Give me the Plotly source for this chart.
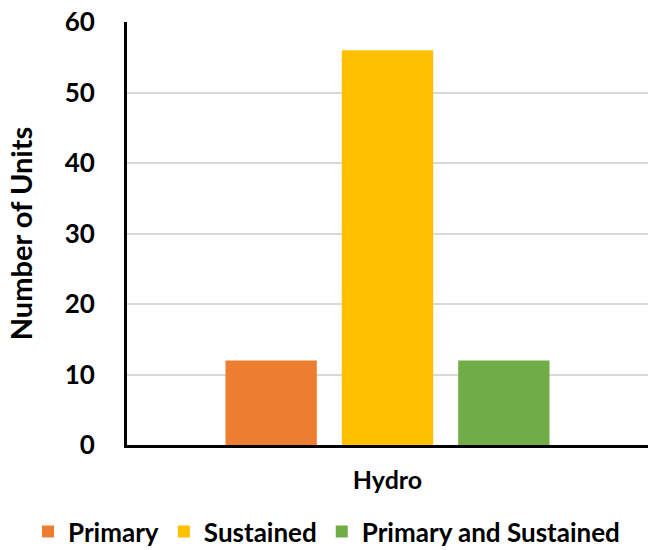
import plotly.graph_objects as go

categories = ["Hydro"]
series_names = ["Primary", "Sustained", "Primary and Sustained"]
series_values = [[12], [56], [12]]
colors = ["#ED7D31", "#FFC000", "#70AD47"]
y_ticks = [0, 10, 20, 30, 40, 50, 60]

FONT = "Lato"

fig = go.Figure()
for name, vals, c in zip(series_names, series_values, colors):
    fig.add_trace(go.Bar(x=categories, y=vals, name=name, marker=dict(color=c, line=dict(width=0))))

fig.update_layout(
    width=648, height=550,
    margin=dict(l=127, r=0, t=22, b=105, autoexpand=False),
    plot_bgcolor="white", paper_bgcolor="white",
    barmode="group", bargap=0.33, bargroupgap=0.215,
    font=dict(family=FONT, color="black"),
    showlegend=True,
    legend=dict(orientation="h", x=-0.19, y=-0.205,
                xanchor="left", yanchor="middle", bgcolor="rgba(0,0,0,0)",
                font=dict(family=FONT, size=26, color="black", weight="bold"),
                itemwidth=30, tracegroupgap=0),
    xaxis=dict(showline=True, linecolor="black", linewidth=3, ticks="", showgrid=False,
               tickfont=dict(family=FONT, size=25, weight="bold"), ticklabelstandoff=11,
               automargin=False),
    yaxis=dict(range=[0, 60], tickvals=y_ticks, showline=True, linecolor="black", linewidth=3,
               showgrid=True, gridcolor="#D9D9D9", gridwidth=1.5, zeroline=False, ticks="",
               tickfont=dict(family=FONT, size=26, weight="bold"), ticklabelstandoff=24,
               automargin=False,
               title=dict(text="Number of Units", font=dict(family=FONT, size=29, weight="bold"), standoff=24)),
)
fig.write_html("out.html", config={"displayModeBar": False},
               post_script="document.body.style.margin='0';")
